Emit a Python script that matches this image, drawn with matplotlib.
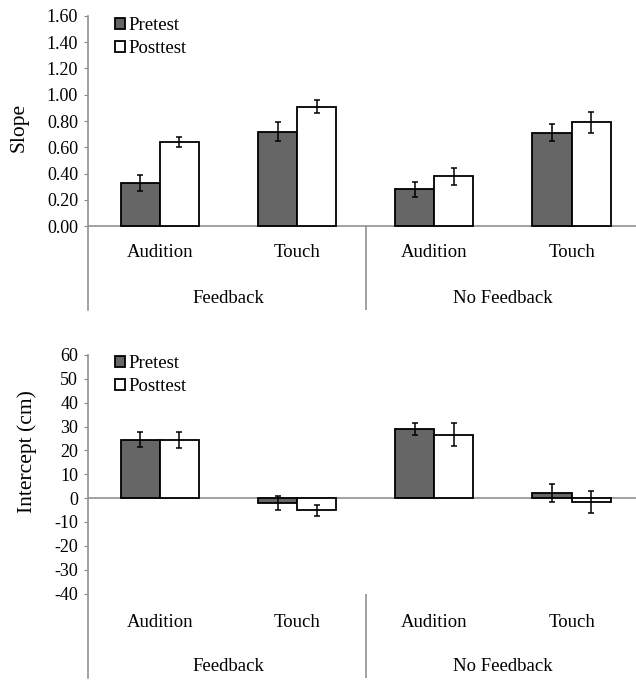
import matplotlib.pyplot as plt
import numpy as np

plt.rcParams['font.family'] = ['Liberation Serif', 'DejaVu Serif']

# conditions along the x axis
groups = ["Feedback", "No Feedback"]
modalities = ["Audition", "Touch", "Audition", "Touch"]

# slope (top panel)
slope_pre = [0.33, 0.72, 0.28, 0.71]
slope_pre_err = [0.06, 0.07, 0.055, 0.065]
slope_post = [0.64, 0.91, 0.38, 0.79]
slope_post_err = [0.035, 0.05, 0.065, 0.08]

# intercept in cm (bottom panel)
icpt_pre = [24.5, -2.0, 29.0, 2.0]
icpt_pre_err = [3.2, 3.0, 2.5, 3.7]
icpt_post = [24.2, -5.2, 26.6, -1.6]
icpt_post_err = [3.4, 2.1, 4.9, 4.5]

grey = "#888888"
fs = 13.5


def panel(ax, pre, pre_err, post, post_err, ylabel, yticks, fmt, ylim, lab_y, grp_y, div_top):
    x = np.arange(len(modalities))
    w = 0.285
    ax.bar(x - w / 2, pre, w, color="#666666", edgecolor="black", linewidth=1.3, label="Pretest", zorder=2)
    ax.bar(x + w / 2, post, w, color="white", edgecolor="black", linewidth=1.3, label="Posttest", zorder=2)
    ax.errorbar(x - w / 2, pre, yerr=pre_err, fmt="none", ecolor="black", elinewidth=1.1, capsize=2.5, capthick=1.1, zorder=3)
    ax.errorbar(x + w / 2, post, yerr=post_err, fmt="none", ecolor="black", elinewidth=1.1, capsize=2.5, capthick=1.1, zorder=3)
    ax.axhline(0, color=grey, linewidth=1.1, zorder=1)
    ax.set_xlim(-0.526, 3.47)
    ax.set_ylim(*ylim)
    ax.set_yticks(yticks)
    ax.set_yticklabels([fmt.format(t) for t in yticks], fontsize=13)
    ax.set_xticks([])
    for s in ["top", "right", "bottom"]:
        ax.spines[s].set_visible(False)
    ax.spines["left"].set_color(grey)
    ax.spines["left"].set_linewidth(1.1)
    ax.tick_params(axis="y", length=3, color=grey, pad=4)
    ax.set_ylabel(ylabel, fontsize=15.5)
    ax.vlines(1.5, ylim[0], div_top, color=grey, linewidth=1.1, clip_on=False)
    for xi, m in zip(x, modalities):
        ax.text(xi, lab_y, m, ha="center", va="center", fontsize=fs)
    for gi, g in enumerate(groups):
        ax.text(0.5 + 2 * gi, grp_y, g, ha="center", va="center", fontsize=fs)
    ax.legend(loc="upper left", bbox_to_anchor=(0.025, 1.04), frameon=False, fontsize=fs,
              handlelength=0.55, handleheight=0.55, handletextpad=0.2, labelspacing=0.3, borderpad=0.2)


fig = plt.figure(figsize=(6.36, 6.80), dpi=100)
ax1 = fig.add_axes([0.138, 0.544, 0.862, 0.4325])
ax2 = fig.add_axes([0.138, 0.003, 0.862, 0.475])

panel(ax1, slope_pre, slope_pre_err, slope_post, slope_post_err, "Slope",
      np.arange(0, 1.61, 0.2), "{:.2f}", (-0.64, 1.6), -0.2, -0.55, 0)
panel(ax2, icpt_pre, icpt_pre_err, icpt_post, icpt_post_err, "Intercept (cm)",
      np.arange(-40, 61, 10), "{:.0f}", (-75.4, 60), -52, -70.7, -40)

ax1.yaxis.set_label_coords(-0.108, 0.62)
ax2.yaxis.set_label_coords(-0.093, 0.70)

fig.savefig("out.png", dpi=100)
